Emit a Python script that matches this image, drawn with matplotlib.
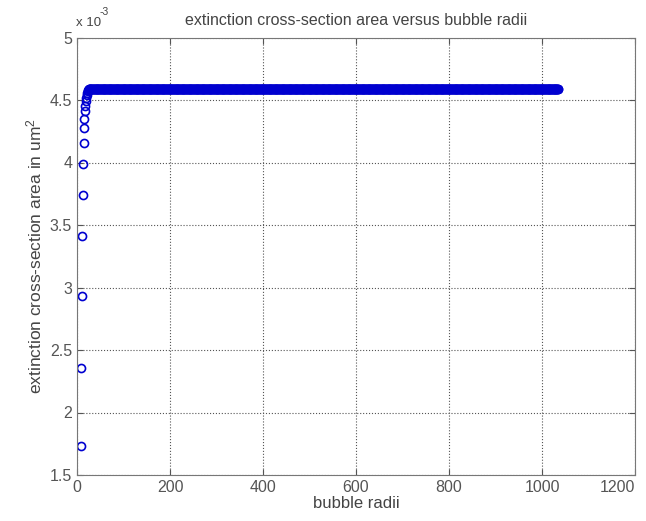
import numpy as np
import matplotlib.pyplot as plt

plt.rcParams['font.family'] = ['Liberation Sans', 'DejaVu Sans']
plt.rcParams['mathtext.default'] = 'regular'

# extinction cross-section (x 1e-3 um^2)
rise_vals = [1.73, 2.36, 2.93, 3.41, 3.74, 3.99, 4.16, 4.28, 4.35, 4.41,
             4.45, 4.49, 4.52, 4.54, 4.56, 4.57, 4.58]
plateau_val = 4.585
r_start = 8
r_end = 1035

radii = np.arange(r_start, r_end + 1)
ext = np.full(len(radii), plateau_val)
ext[:len(rise_vals)] = rise_vals

xticks = [0, 200, 400, 600, 800, 1000, 1200]
yticks = [1.5, 2, 2.5, 3, 3.5, 4, 4.5, 5]
ytick_labels = ['1.5', '2', '2.5', '3', '3.5', '4', '4.5', '5']

W, H = 646, 521
fig = plt.figure(figsize=(W / 100, H / 100), dpi=100)
ax = fig.add_axes([77 / W, (H - 475) / H, 558 / W, 437.5 / H])

ax.plot(radii, ext, 'o', mfc='none', mec='#0000d0', ms=5.8, mew=1.2)

ax.set_xlim(0, 1200)
ax.set_ylim(1.5, 5)
ax.set_xticks(xticks)
ax.set_yticks(yticks)
ax.set_yticklabels(ytick_labels)
ax.get_xticklabels()[-1].set_horizontalalignment('right')
ax.grid(True, linestyle=':', color='#555555', linewidth=0.8)
ax.tick_params(direction='in', top=True, right=True, labelsize=11.5,
               colors='#555555', length=4)
for s in ax.spines.values():
    s.set_color('#777777')

ax.set_xlabel('bubble radii', fontsize=12, color='#444444', labelpad=1)
ax.set_ylabel('extinction cross-section area in um$^2$', fontsize=12.5,
              color='#444444', labelpad=4)
ax.set_title('extinction cross-section area versus bubble radii',
             fontsize=11.5, color='#444444', pad=9)

# MATLAB style exponent label
fig.text(76 / W, 1 - 23 / H, 'x 10', fontsize=9.5, color='#444444',
         ha='left', va='center')
fig.text(100 / W, 1 - 12 / H, '-3', fontsize=7.5, color='#444444',
         ha='left', va='center')

fig.savefig('out.png', dpi=100)
